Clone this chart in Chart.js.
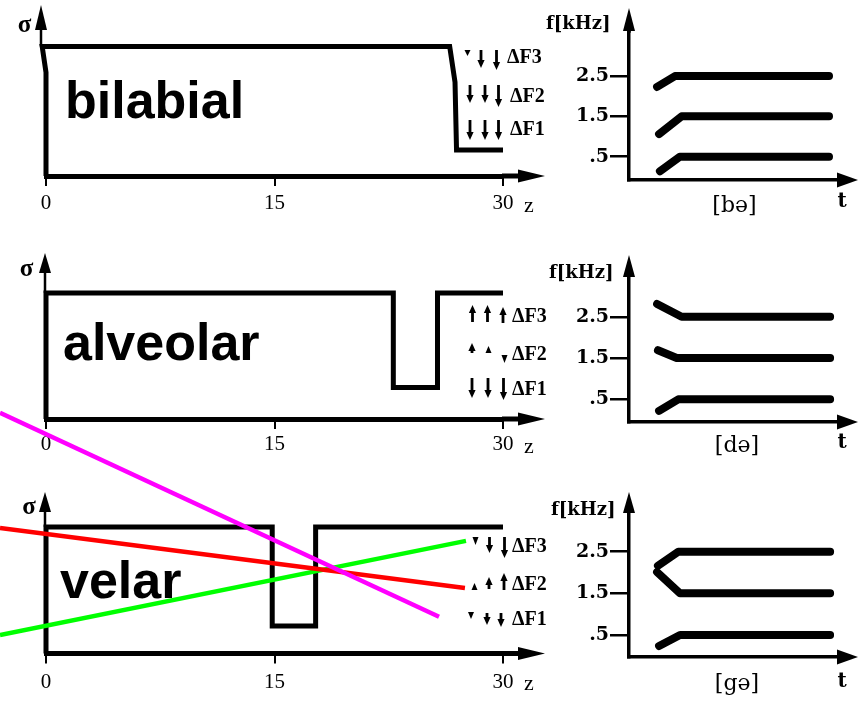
<!DOCTYPE html>
<html><head><meta charset="utf-8">
<script src="https://cdn.jsdelivr.net/npm/chart.js@4.4.1/dist/chart.umd.min.js"></script>
<style>
html,body{margin:0;padding:0;background:#fff;}
body{width:859px;height:703px;position:relative;overflow:hidden;}
canvas{position:absolute;}
</style></head><body>
<canvas id="L1"></canvas><canvas id="L2"></canvas><canvas id="R1"></canvas><canvas id="R2"></canvas><canvas id="R3"></canvas><canvas id="L3"></canvas>
<script>
// ---------- data ----------
const zTicks = [0, 15, 30];
const zTickLabels = ['0', '15', '30'];
const fTicks = [0.5, 1.5, 2.5];
const fTickLabels = ['.5', '1.5', '2.5'];
const places = ['bilabial', 'alveolar', 'velar'];
const syllables = ['[bə]', '[də]', '[gə]'];
const formantNames = ['ΔF3', 'ΔF2', 'ΔF1'];

// area functions: z (cm from glottis) vs sigma (area)
const bilabialZ = [0, 0, -0.25, 26.5, 26.85, 26.95, 30];
const bilabialSigma = [0, 3.2, 4, 4, 2.9, 0.8, 0.8];
const alveolarZ = [0, 0, 22.8, 22.8, 25.7, 25.7, 30];
const alveolarSigma = [0, 4, 4, 1.0, 1.0, 4, 4];
const velarZ = [0, 0, 14.85, 14.85, 17.7, 17.7, 30];
const velarSigma = [0, 4, 4, 0.87, 0.87, 4, 4];

// overlay lines on velar panel (z, sigma)
const magentaZ = [-3.02, 25.8];
const magentaSigma = [7.61, 1.16];
const redZ = [-3.02, 27.5];
const redSigma = [3.97, 2.07];
const greenZ = [-3.02, 27.57];
const greenSigma = [0.585, 3.56];

// formant tracks: t (arbitrary) vs f (kHz)
const bilabialF3t = [12.7, 20.8, 90.5], bilabialF3f = [2.23, 2.5, 2.5];
const bilabialF2t = [13.6, 23.8, 90.5], bilabialF2f = [1.06, 1.5, 1.5];
const bilabialF1t = [14.0, 23.0, 90.5], bilabialF1f = [0.14, 0.5, 0.5];
const alveolarF3t = [12.7, 23.8, 91.0], alveolarF3f = [2.81, 2.5, 2.5];
const alveolarF2t = [13.1, 21.6, 91.0], alveolarF2f = [1.69, 1.5, 1.5];
const alveolarF1t = [13.6, 22.3, 91.0], alveolarF1f = [0.22, 0.5, 0.5];
const velarF3t = [13.1, 22.3, 91.0], velarF3f = [2.16, 2.5, 2.5];
const velarF2t = [12.7, 23.1, 91.0], velarF2f = [2.01, 1.5, 1.5];
const velarF1t = [13.6, 23.1, 91.0], velarF1f = [0.235, 0.5, 0.5];

// ---------- layout (page pixels) ----------
const SERIF = "'Liberation Serif', 'Times New Roman', serif";
const DSERIF = "'DejaVu Serif', serif";
const SANS = "'Liberation Sans', Arial, sans-serif";

const leftRows = [
  {id:'L1', box:[0,0,560,235], axisY:176, top4:46.5, sMax:5, pad:5, yAxisX:41, tip:5, base:30,
   sigma:[24.5,25.5], zBase:212, labelX:65, labelBase:118, dfX:[507,510,510], dfBase:[63,102,135],
   arrows:[[467.5,50,56,'d'],[481,50,68,'d'],[496.5,50,70,'d'],
           [470,85,103,'d'],[485,85,103,'d'],[498.5,85,107,'d'],
           [470,120,140,'d'],[485,120,140,'d'],[498.5,120,140,'d']]},
  {id:'L2', box:[0,235,560,235], axisY:419, top4:293, sMax:5, pad:3, yAxisX:45, tip:253, base:273,
   sigma:[26.5,269.5], zBase:453, labelX:63, labelBase:360, dfX:[512,512,512], dfBase:[322,360,395],
   arrows:[[472.5,305,322,'u'],[487.5,305,322,'u'],[503,307,323,'u'],
           [472,343,353,'u'],[488.5,346,353,'u'],[504.5,355,363,'d'],
           [472,378,398,'d'],[488,378,398,'d'],[503.5,378,400,'d']]},
  {id:'L3', box:[0,395,560,308], axisY:653.5, top4:527, sMax:8, pad:6, yAxisX:45, tip:492, base:512,
   sigma:[29,507.5], zBase:690, labelX:60, labelBase:598, dfX:[512,512,512], dfBase:[552,590,625],
   arrows:[[475.5,537,545,'d'],[489.5,537,553,'d'],[504.5,537,558,'d'],
           [474.5,583,590,'u'],[489,577,589,'u'],[504,573,590,'u'],
           [471,612,619,'d'],[487,613,625,'d'],[501,613,627,'d']]}
];
const rightRows = [
  {id:'R1', box:[530,0,329,235], axisY:180, zeroY:176.8, ppk:40.3, tip:8, base:31,
   fk:[546,29], tLab:[842,207], syl:[734.5,212]},
  {id:'R2', box:[530,235,329,235], axisY:422, zeroY:420, ppk:41.3, tip:255, base:277,
   fk:[549,278], tLab:[842,448], syl:[737,452]},
  {id:'R3', box:[530,470,329,233], axisY:657, zeroY:655.8, ppk:41.65, tip:492, base:513,
   fk:[551,515], tLab:[842,687], syl:[737,690]}
];
const AREA_L = 46, AREA_R = 503, RAREA_L = 629, RAREA_R = 850;

function pts(xs, ys){ return xs.map((x,i)=>({x:x, y:ys[i]})); }
function blackLine(xs, ys, w){ return {data:pts(xs,ys), borderColor:'#000', borderWidth:w, pointRadius:0, clip:false, order:1, borderJoinStyle:'miter', tension:0}; }
function colorLine(xs, ys, c){ return {data:pts(xs,ys), borderColor:c, borderWidth:4.5, pointRadius:0, clip:false, order:0, tension:0}; }
function formant(xs, ys){ return {data:pts(xs,ys), borderColor:'#000', borderWidth:8, pointRadius:0, borderCapStyle:'round', borderJoinStyle:'round', tension:0}; }
function labelFor(ticks, labels, v){ for (let k=0;k<ticks.length;k++){ if (Math.abs(ticks[k]-v) < 1e-6) return labels[k]; } return ''; }

function tri(ctx, a, b, c){ ctx.beginPath(); ctx.moveTo(a[0],a[1]); ctx.lineTo(b[0],b[1]); ctx.lineTo(c[0],c[1]); ctx.closePath(); ctx.fill(); }
function smallArrow(ctx, x, y1, y2, dir){
  const len = y2 - y1, hw = len < 10 ? 3 : 3.6, hh = Math.min(len, 8);
  if (dir === 'd') {
    if (len > hh + 1) ctx.fillRect(x-1.4, y1, 2.8, len-hh+0.5);
    tri(ctx, [x-hw, y2-hh], [x+hw, y2-hh], [x, y2]);
  } else {
    if (len > hh + 1) ctx.fillRect(x-1.4, y1+hh-0.5, 2.8, len-hh+0.5);
    tri(ctx, [x-hw, y1+hh], [x+hw, y1+hh], [x, y1]);
  }
}

function setupCanvas(id, box){
  const c = document.getElementById(id);
  c.width = box[2]; c.height = box[3];
  c.style.left = box[0]+'px'; c.style.top = box[1]+'px';
  c.style.width = box[2]+'px'; c.style.height = box[3]+'px';
  return c;
}

function leftChart(r, idx, datasets){
  const c = setupCanvas(r.id, r.box);
  const XH = 40;
  const ppu = (r.axisY - r.top4)/4;
  const areaT = r.axisY - r.sMax*ppu;
  const decor = {
    id:'decorL'+idx,
    beforeDatasetsDraw(chart){
      const ctx = chart.ctx; ctx.save(); ctx.translate(-r.box[0], -r.box[1]);
      ctx.fillStyle = '#000'; ctx.strokeStyle = '#000';
      ctx.lineWidth = 2.5; ctx.beginPath(); ctx.moveTo(r.yAxisX, r.base); ctx.lineTo(r.yAxisX, r.top4); ctx.stroke();
      tri(ctx, [r.yAxisX, r.tip], [r.yAxisX-6, r.base], [r.yAxisX+6, r.base]);
      ctx.lineWidth = 5; ctx.beginPath(); ctx.moveTo(AREA_R-1, r.axisY); ctx.lineTo(522, r.axisY); ctx.stroke();
      tri(ctx, [545, r.axisY], [518, r.axisY-6.5], [518, r.axisY+6.5]);
      ctx.font = 'bold 25px ' + SERIF; ctx.textAlign = 'center'; ctx.textBaseline = 'middle';
      ctx.fillText('σ', r.sigma[0], r.sigma[1]);
      ctx.font = '22px ' + SERIF; ctx.textAlign = 'left'; ctx.textBaseline = 'alphabetic';
      ctx.fillText('z', 524, r.zBase);
      ctx.font = 'bold 52px ' + SANS; ctx.fillText(places[idx], r.labelX, r.labelBase);
      ctx.font = 'bold 20px ' + SERIF;
      formantNames.forEach((n,i)=>ctx.fillText(n, r.dfX[i], r.dfBase[i]));
      r.arrows.forEach(a=>smallArrow(ctx, a[0], a[1], a[2], a[3]));
      ctx.restore();
    }
  };
  return new Chart(c, {
    type:'line',
    data:{datasets},
    options:{
      responsive:false, animation:false, devicePixelRatio:1,
      layout:{padding:{left:AREA_L-r.box[0], right:r.box[0]+r.box[2]-AREA_R, top:areaT-r.box[1], bottom:r.box[1]+r.box[3]-r.axisY-XH}},
      plugins:{legend:{display:false}, tooltip:{enabled:false}},
      scales:{
        x:{type:'linear', min:0, max:30,
           afterBuildTicks:s=>{ s.ticks = zTicks.map(v=>({value:v})); },
           afterFit:s=>{ s.height = XH; },
           ticks:{callback:(v)=>labelFor(zTicks, zTickLabels, v), font:{family:SERIF, size:21}, color:'#000', padding:r.pad, maxRotation:0, autoSkip:false},
           grid:{drawOnChartArea:false, drawTicks:true, tickLength:10, color:'#000', lineWidth:2},
           border:{display:true, width:5, color:'#000'}},
        y:{type:'linear', display:false, min:0, max:r.sMax}
      }
    },
    plugins:[decor]
  });
}

function rightChart(r, idx, datasets){
  const c = setupCanvas(r.id, r.box);
  const YW = 80;
  const fMin = -(r.axisY - r.zeroY)/r.ppk, fMax = 3.6;
  const areaT = r.axisY - (fMax - fMin)*r.ppk;
  const decor = {
    id:'decorR'+idx,
    beforeDatasetsDraw(chart){
      const ctx = chart.ctx; ctx.save(); ctx.translate(-r.box[0], -r.box[1]);
      ctx.fillStyle = '#000'; ctx.strokeStyle = '#000';
      ctx.lineWidth = 3.5;
      ctx.beginPath(); ctx.moveTo(RAREA_L, areaT+1); ctx.lineTo(RAREA_L, r.base); ctx.stroke();
      tri(ctx, [RAREA_L, r.tip], [RAREA_L-6, r.base], [RAREA_L+6, r.base]);
      ctx.beginPath(); ctx.moveTo(RAREA_R-1, r.axisY); ctx.lineTo(840, r.axisY); ctx.stroke();
      tri(ctx, [858, r.axisY], [837, r.axisY-7.5], [837, r.axisY+7.5]);
      ctx.textBaseline = 'alphabetic';
      ctx.font = 'bold 18px ' + DSERIF; ctx.textAlign = 'left';
      ctx.fillText('f[kHz]', r.fk[0], r.fk[1]);
      ctx.font = 'bold 20px ' + DSERIF; ctx.textAlign = 'center';
      ctx.fillText('t', r.tLab[0], r.tLab[1]);
      ctx.font = '22px ' + DSERIF;
      ctx.fillText(syllables[idx], r.syl[0], r.syl[1]);
      ctx.restore();
    }
  };
  return new Chart(c, {
    type:'line',
    data:{datasets},
    options:{
      responsive:false, animation:false, devicePixelRatio:1,
      layout:{padding:{left:RAREA_L-r.box[0]-YW, right:r.box[0]+r.box[2]-RAREA_R, top:areaT-r.box[1], bottom:r.box[1]+r.box[3]-r.axisY}},
      plugins:{legend:{display:false}, tooltip:{enabled:false}},
      scales:{
        x:{type:'linear', min:0, max:100, afterFit:s=>{ s.height = 0; },
           ticks:{display:false}, grid:{display:false}, border:{display:true, width:3.5, color:'#000'}},
        y:{type:'linear', min:fMin, max:fMax,
           afterBuildTicks:s=>{ s.ticks = fTicks.map(v=>({value:v})); },
           afterFit:s=>{ s.width = YW; },
           ticks:{callback:(v)=>labelFor(fTicks, fTickLabels, v), font:{family:DSERIF, size:19, weight:'bold'}, color:'#000', padding:1, autoSkip:false},
           grid:{drawOnChartArea:false, drawTicks:true, tickLength:19, color:'#000', lineWidth:2.5},
           border:{display:true, width:3.5, color:'#000'}}
      }
    },
    plugins:[decor]
  });
}

leftChart(leftRows[0], 0, [blackLine(bilabialZ, bilabialSigma, 5)]);
leftChart(leftRows[1], 1, [blackLine(alveolarZ, alveolarSigma, 5)]);
rightChart(rightRows[0], 0, [formant(bilabialF3t, bilabialF3f), formant(bilabialF2t, bilabialF2f), formant(bilabialF1t, bilabialF1f)]);
rightChart(rightRows[1], 1, [formant(alveolarF3t, alveolarF3f), formant(alveolarF2t, alveolarF2f), formant(alveolarF1t, alveolarF1f)]);
rightChart(rightRows[2], 2, [formant(velarF3t, velarF3f), formant(velarF2t, velarF2f), formant(velarF1t, velarF1f)]);
leftChart(leftRows[2], 2, [
  colorLine(magentaZ, magentaSigma, '#ff00ff'),
  colorLine(redZ, redSigma, '#ff0000'),
  colorLine(greenZ, greenSigma, '#00ff00'),
  blackLine(velarZ, velarSigma, 5)
]);
</script>
</body></html>
